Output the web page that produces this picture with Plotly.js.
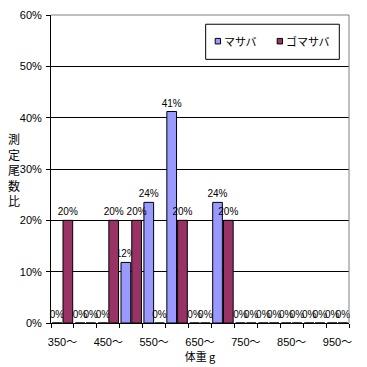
<!DOCTYPE html>
<html><head><meta charset="utf-8">
<script src="https://cdn.plot.ly/plotly-3.0.1.min.js"></script>
<style>html,body{margin:0;padding:0;background:#fff}#c{width:367px;height:367px}</style>
</head><body><div id="c"></div>
<script>
const categories = ['350〜','400〜','450〜','500〜','550〜','600〜','650〜','700〜','750〜','800〜','850〜','900〜','950〜'];
const tickLabels = ['350〜','','450〜','','550〜','','650〜','','750〜','','850〜','','950〜'];
const seriesNames = ['マサバ','ゴマサバ'];
const masaba = [0,0,0,0.118,0.235,0.412,0,0.235,0,0,0,0,0];
const gomasaba = [0.2,0,0.2,0.2,0,0.2,0,0.2,0,0,0,0,0];
const colors = ['#9999FF','#993366'];

const F = 'Liberation Sans, Arial, Noto Sans CJK JP, sans-serif';
const FJ = 'Noto Sans CJK JP, sans-serif';
function tr(name, y, color){
  return {type:'bar', name:name, x:categories, y:y, showlegend:false,
    marker:{color:color, line:{color:'#000', width:1}},
    texttemplate:'%{y:.0%}', textposition:'outside', constraintext:'none',
    cliponaxis:false, textfont:{family:F, size:10, color:'#000'}, hoverinfo:'skip'};
}
const data = [tr(seriesNames[0], masaba, colors[0]), tr(seriesNames[1], gomasaba, colors[1])];

// manual legend (paper coords)
const legShapes = [
  {type:'rect', xref:'paper', yref:'paper', x0:0.519, x1:0.9675, y0:0.856, y1:0.970, line:{color:'#000', width:1}, fillcolor:'#fff', layer:'above'},
  {type:'rect', xref:'paper', yref:'paper', x0:0.551, x1:0.569, y0:0.906, y1:0.924, line:{color:'#000', width:1}, fillcolor:colors[0], layer:'above'},
  {type:'rect', xref:'paper', yref:'paper', x0:0.759, x1:0.777, y0:0.906, y1:0.924, line:{color:'#000', width:1}, fillcolor:colors[1], layer:'above'}
];
const legAnn = [
  {xref:'paper', yref:'paper', x:0.574, y:0.915, xanchor:'left', yanchor:'middle', text:seriesNames[0], showarrow:false, font:{family:FJ, size:11, color:'#000'}},
  {xref:'paper', yref:'paper', x:0.782, y:0.915, xanchor:'left', yanchor:'middle', text:seriesNames[1], showarrow:false, font:{family:FJ, size:11, color:'#000'}}
];

const layout = {
  width:367, height:367, margin:{l:51, r:18, t:15, b:44},
  paper_bgcolor:'#fff', plot_bgcolor:'#fff',
  font:{family:F, size:11, color:'#000'},
  bargap:0.06, bargroupgap:0.1, barmode:'group', showlegend:false,
  xaxis:{type:'category', tickvals:categories, ticktext:tickLabels, tickson:'boundaries',
    ticks:'outside', ticklen:4, tickcolor:'#000', showline:true, linecolor:'#000', linewidth:1,
    showgrid:false, tickangle:0, tickfont:{family:F, size:11}, ticklabelstandoff:9,
    title:{text:'体重 g', font:{family:FJ, size:11}, standoff:0}},
  yaxis:{range:[0,0.6], dtick:0.1, tickformat:'.0%', ticks:'outside', ticklen:4, tickcolor:'#000',
    showline:true, linecolor:'#000', linewidth:1, showgrid:true, gridcolor:'#000', gridwidth:1,
    zeroline:false, tickfont:{family:F, size:11}, ticklabelstandoff:2, fixedrange:true},
  shapes:[
    {type:'line', xref:'paper', yref:'paper', x0:0, x1:1, y0:1, y1:1, line:{color:'#808080', width:1}},
    {type:'line', xref:'paper', yref:'paper', x0:1, x1:1, y0:0, y1:1, line:{color:'#808080', width:1}}
  ].concat(legShapes),
  annotations:[
    {xref:'paper', yref:'paper', x:-0.125, y:0.5, xanchor:'center', yanchor:'middle',
     text:'測<br>定<br>尾<br>数<br>比', showarrow:false, font:{family:FJ, size:12, color:'#000'}}
  ].concat(legAnn)
};
Plotly.newPlot('c', data, layout, {displayModeBar:false, staticPlot:true});
</script></body></html>
